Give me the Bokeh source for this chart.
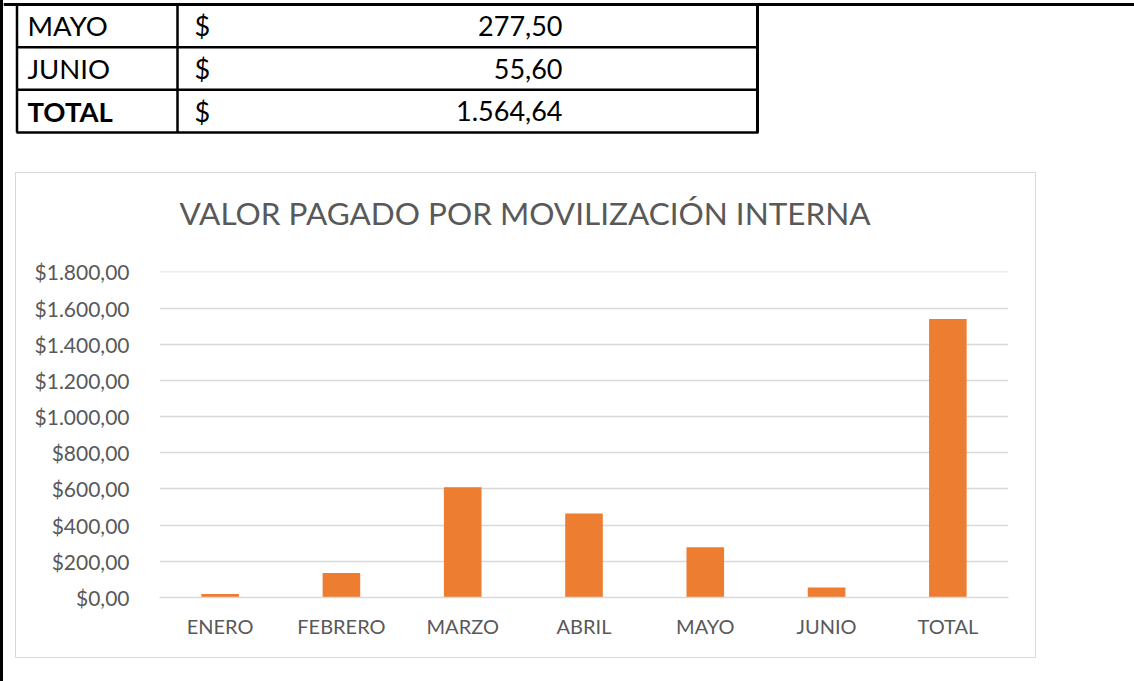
from bokeh.plotting import figure
from bokeh.layouts import column
from bokeh.models import Range1d, FactorRange, FixedTicker, Span, ColumnDataSource, Title
from bokeh.core.properties import value
from bokeh.embed import file_html
from bokeh.resources import INLINE

# ---------------- data ----------------
months = ["ENERO", "FEBRERO", "MARZO", "ABRIL", "MAYO", "JUNIO", "TOTAL"]
amounts = [20.0, 136.0, 609.0, 465.0, 277.50, 55.60, 1540.0]
y_ticks = [0, 200, 400, 600, 800, 1000, 1200, 1400, 1600, 1800]
y_tick_labels = ["$0,00", "$200,00", "$400,00", "$600,00", "$800,00",
                 "$1.000,00", "$1.200,00", "$1.400,00", "$1.600,00", "$1.800,00"]
chart_title = "VALOR PAGADO POR MOVILIZACIÓN INTERNA"

table_labels = ["MAYO", "JUNIO", "TOTAL"]
table_currency = ["$", "$", "$"]
table_values = ["277,50", "55,60", "1.564,64"]

FONT = value("Lato")
GRAY = "#595959"
LIGHT = "#d9d9d9"
ORANGE = "#ED7D31"
PAGE_W = 1134
EDGE = 3  # width of the page's left rule
RULE = {"border-left": "%dpx solid black" % EDGE}

# ---------------- table (top of the page) ----------------
row_h = 42.67
tf_h = 140
rows_idx = list(range(len(table_labels)))
tf = figure(width=PAGE_W - EDGE, height=tf_h,
            x_range=Range1d(EDGE, PAGE_W),
            y_range=Range1d((tf_h - 4) / row_h - 0.5, -4 / row_h - 0.5),
            x_axis_type=None, y_axis_type=None, min_border=0, title=None,
            output_backend="svg", toolbar_location=None)
tf.outline_line_color = None
tf.grid.visible = False

tsrc = ColumnDataSource(dict(
    y=rows_idx, label=table_labels, cur=table_currency, val=table_values,
    style=["bold" if l == "TOTAL" else "normal" for l in table_labels]))

# page top rule
tf.add_layout(Span(location=-0.5, dimension="width", line_color="black", line_width=3))
# table grid
bounds = [i + 0.5 for i in rows_idx]
tf.segment(x0=[16] * len(bounds), x1=[758] * len(bounds), y0=bounds, y1=bounds,
           line_color="black", line_width=2.5)
for xv, lw in [(16.5, 2.5), (177, 2.5), (757, 3)]:
    tf.segment(x0=[xv], x1=[xv], y0=[-0.5], y1=[len(rows_idx) - 0.5],
               line_color="black", line_width=lw)

tf.text(x=27, y="y", text="label", source=tsrc, text_font=FONT, text_font_size="27.5px",
        text_font_style="style", text_baseline="middle", text_align="left", text_color="black")
tf.text(x=194, y="y", text="cur", source=tsrc, text_font=FONT, text_font_size="27px",
        text_baseline="middle", text_align="left", text_color="black")
tf.text(x=562, y="y", text="val", source=tsrc, text_font=FONT, text_font_size="27px",
        text_baseline="middle", text_align="right", text_color="black")

top_block = column(tf, styles=RULE)

# ---------------- bar chart ----------------
cf = figure(width=1021, height=486, title=None,
            x_range=FactorRange(*months), y_range=Range1d(0, 1802),
            min_border_left=143, min_border_right=29, min_border_top=97, min_border_bottom=62,
            output_backend="svg", toolbar_location=None,
            styles={"border": "1.5px solid " + LIGHT, "box-sizing": "border-box"})
cf.margin = (32, 0, 23, 15 - EDGE)
cf.outline_line_color = None
cf.vbar(x=months, top=amounts, width=0.31, fill_color=ORANGE, line_color=None)

# white spacer next to the plot area (added first = nearest the frame), then the title
cf.add_layout(Title(text=".", text_font_size="1px", text_color="white", standoff=19), "above")
cf.add_layout(Title(text=chart_title, align="left", offset=20, standoff=36,
                    text_font="Lato", text_font_size="31.5px", text_font_style="normal",
                    text_color=GRAY), "above")

cf.xgrid.grid_line_color = None
cf.ygrid.grid_line_color = LIGHT
cf.ygrid.grid_line_width = 1.3
cf.yaxis.ticker = FixedTicker(ticks=y_ticks)
cf.yaxis.major_label_overrides = {t: l for t, l in zip(y_ticks, y_tick_labels)}
for ax in (cf.xaxis, cf.yaxis):
    ax.major_tick_line_color = None
    ax.minor_tick_line_color = None
    ax.major_tick_in = 0
    ax.major_tick_out = 0
    ax.minor_tick_in = 0
    ax.minor_tick_out = 0
    ax.major_label_text_font = "Lato"
    ax.major_label_text_color = GRAY
cf.xaxis.major_label_text_font_size = "20px"
cf.yaxis.major_label_text_font_size = "21px"
cf.yaxis.axis_line_color = None
cf.yaxis.major_label_standoff = 30
cf.xaxis.axis_line_color = LIGHT
cf.xaxis.axis_line_width = 1.3
cf.xaxis.major_label_standoff = 16

bottom_block = column(cf, styles=RULE)

open("out.html", "w").write(file_html([top_block, bottom_block], INLINE))
